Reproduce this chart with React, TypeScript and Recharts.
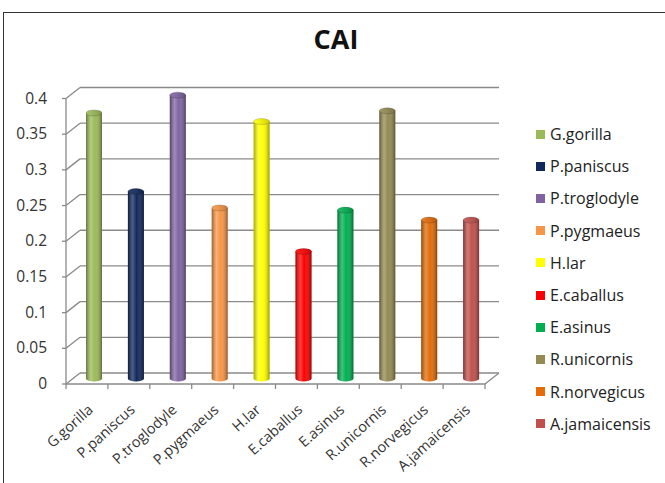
import React from 'react';
import { BarChart, Bar, XAxis, YAxis, CartesianGrid } from 'recharts';

const species = [
  'G.gorilla',
  'P.paniscus',
  'P.troglodyle',
  'P.pygmaeus',
  'H.lar',
  'E.caballus',
  'E.asinus',
  'R.unicornis',
  'R.norvegicus',
  'A.jamaicensis',
];
const caiValues = [0.372, 0.262, 0.397, 0.239, 0.36, 0.178, 0.236, 0.375, 0.222, 0.222];
const barColors = [
  '#9bbb59',
  '#10285c',
  '#8064a2',
  '#f79646',
  '#ffff00',
  '#ff0000',
  '#00b050',
  '#948a54',
  '#e36c09',
  '#c0504d',
];
const yTicks = [0, 0.05, 0.1, 0.15, 0.2, 0.25, 0.3, 0.35, 0.4];

// fake depth: front edge is (-DX, +DY) from the series plane, back wall is (+DX, -DY)
const DX = 7;
const DY = 5.5;
const PLOT_LEFT = 73;
const PLOT_W = 419;
const FONT = '"Open Sans", Lato, sans-serif';
const GRID = '#8a8a8a';

const data = species.map((name, i) => ({ name, cai: caiValues[i] }));

const Cylinder = (props: any) => {
  const { x, y, width, height, index } = props;
  if (height <= 0) return null;
  const rx = width / 2;
  const ry = 3;
  const body = `M${x},${y} L${x},${y + height} A${rx},${ry} 0 0 0 ${x + width},${y + height} L${x + width},${y} Z`;
  return (
    <g>
      <path d={body} fill={barColors[index]} />
      <path d={body} fill="url(#cylShade)" />
      <ellipse cx={x + rx} cy={y} rx={rx} ry={ry} fill={barColors[index]} />
      <ellipse cx={x + rx} cy={y} rx={rx} ry={ry} fill="url(#cylTop)" stroke="rgba(0,0,0,0.25)" strokeWidth={0.6} />
    </g>
  );
};

const gridLine = (props: any) => {
  const { x1, y1, x2, index } = props;
  const isFloor = Math.abs(y1 - (props.y + props.height)) < 1;
  return (
    <g key={`g-${index}`}>
      <line x1={x1 - DX} y1={y1 + DY} x2={x1 + DX} y2={y1 - DY} stroke={GRID} strokeWidth={1.3} />
      <line x1={x1 + DX} y1={y1 - DY} x2={x2 + DX} y2={y1 - DY} stroke={GRID} strokeWidth={1.3} />
      {isFloor && (
        <line x1={x2 - DX} y1={y1 + DY} x2={x2 + DX} y2={y1 - DY} stroke={GRID} strokeWidth={1.3} />
      )}
    </g>
  );
};

const YTick = (props: any) => {
  const { x, y, payload } = props;
  return (
    <g>
      <line x1={x - 4} y1={y + DY} x2={x} y2={y + DY} stroke={GRID} strokeWidth={1.3} />
      <text x={x - 19} y={y + DY + 5} textAnchor="end" fontSize={15.5} fontFamily={FONT} fill="#333">
        {payload.value}
      </text>
    </g>
  );
};

const XTick = (props: any) => {
  const { x, y, payload, index } = props;
  const band = PLOT_W / species.length;
  const fx = x - DX;
  const fy = y + DY - 7;
  return (
    <g>
      <line x1={fx - band / 2} y1={fy} x2={fx - band / 2} y2={fy + 5} stroke={GRID} strokeWidth={1.3} />
      {index === species.length - 1 && (
        <line x1={fx + band / 2} y1={fy} x2={fx + band / 2} y2={fy + 5} stroke={GRID} strokeWidth={1.3} />
      )}
      <text
        x={0}
        y={0}
        transform={`translate(${fx + 7},${fy + 27}) rotate(-42)`}
        textAnchor="end"
        fontSize={14.5}
        fontFamily={FONT}
        fill="#333"
      >
        {payload.value}
      </text>
    </g>
  );
};

export default function App() {
  return (
    <div style={{ position: 'fixed', left: 0, top: 0, width: 665, height: 483, background: '#fff', overflow: 'hidden' }}>
      <div
        style={{
          position: 'absolute',
          left: 3,
          top: 12,
          width: 680,
          height: 490,
          border: '1.5px solid #333',
          boxSizing: 'border-box',
        }}
      />
      <div
        style={{
          position: 'absolute',
          left: 286,
          width: 100,
          top: 20,
          textAlign: 'center',
          fontFamily: FONT,
          fontWeight: 700,
          fontSize: 27,
          color: '#111',
        }}
      >
        CAI
      </div>
      <div style={{ position: 'absolute', left: 0, top: 0 }}>
        <BarChart width={665} height={483} data={data} margin={{ top: 93, right: 665 - PLOT_LEFT - PLOT_W, bottom: 0, left: 0 }}>
          <defs>
            <linearGradient id="cylShade" x1="0" y1="0" x2="1" y2="0">
              <stop offset="0%" stopColor="#000" stopOpacity={0.35} />
              <stop offset="30%" stopColor="#fff" stopOpacity={0.25} />
              <stop offset="55%" stopColor="#fff" stopOpacity={0} />
              <stop offset="100%" stopColor="#000" stopOpacity={0.4} />
            </linearGradient>
            <linearGradient id="cylTop" x1="0" y1="0" x2="1" y2="0">
              <stop offset="0%" stopColor="#fff" stopOpacity={0.1} />
              <stop offset="100%" stopColor="#000" stopOpacity={0.2} />
            </linearGradient>
          </defs>
          <CartesianGrid vertical={false} horizontal={gridLine} />
          <YAxis
            width={PLOT_LEFT}
            domain={[0, 0.4]}
            ticks={yTicks}
            interval={0}
            tickSize={5}
            tickMargin={2}
            tickLine={false}
            tick={<YTick />}
            axisLine={{ stroke: GRID, strokeWidth: 1.3, transform: `translate(${-DX},${DY})` }}
          />
          <XAxis
            dataKey="name"
            height={104.5}
            interval={0}
            tickSize={5}
            tickMargin={2}
            tickLine={false}
            tick={<XTick />}
            axisLine={{ stroke: GRID, strokeWidth: 1.3, transform: `translate(${-DX},${DY})` }}
          />
          <Bar dataKey="cai" barSize={16} shape={<Cylinder />} isAnimationActive={false} />
        </BarChart>
      </div>
      <div style={{ position: 'absolute', left: 536, top: 118, fontFamily: FONT, fontSize: 16, color: '#222' }}>
        {species.map((name, i) => (
          <div key={name} style={{ display: 'flex', alignItems: 'center', height: 32.2 }}>
            <span style={{ width: 9, height: 9, background: barColors[i], marginRight: 5, display: 'inline-block' }} />
            <span>{name}</span>
          </div>
        ))}
      </div>
    </div>
  );
}
